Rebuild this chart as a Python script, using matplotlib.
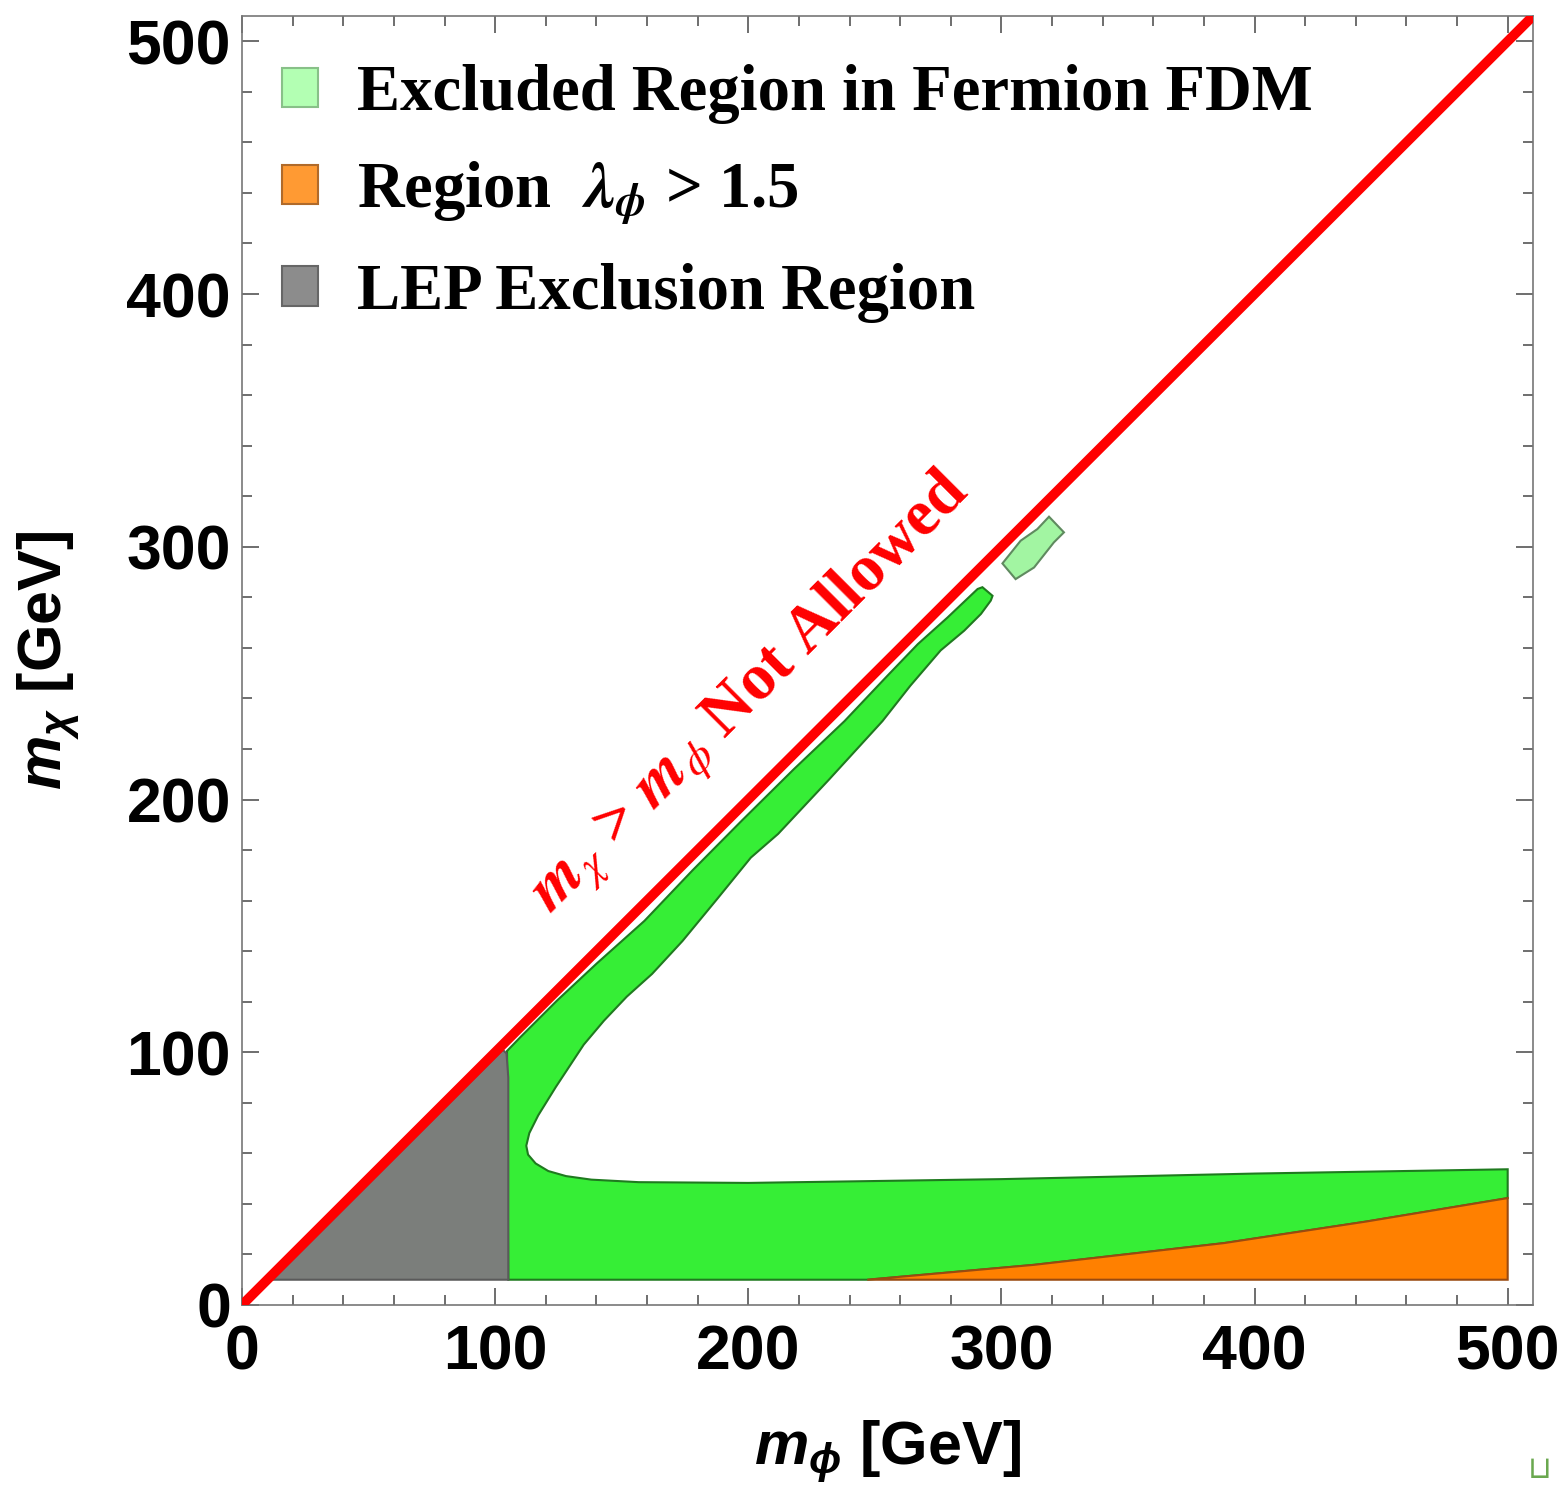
import matplotlib
matplotlib.use('Agg')
import matplotlib.pyplot as plt
from matplotlib.patches import Polygon, Patch
from matplotlib.font_manager import FontProperties

plt.rcParams['mathtext.fontset'] = 'custom'
plt.rcParams['mathtext.it'] = 'Liberation Sans:italic:bold'
plt.rcParams['mathtext.rm'] = 'Liberation Sans:bold'
plt.rcParams['mathtext.bf'] = 'Liberation Sans:bold'

# boundary of the LEP exclusion (GeV)
lep_x = [12, 103, 104.5, 105.2, 105.2]
lep_y = [10, 101, 99.5, 90, 10]

# excluded region in fermion FDM, traced round its edge (GeV)
fdm_x = [105.2, 104.7, 110, 124.5, 140, 159, 178, 197.5, 218, 238, 255, 267, 278.7, 290.6, 292.5, 296.5,
         295.8, 291.9, 285.3, 276, 264, 253, 232, 211.8, 201, 188, 174, 162, 152, 143, 135, 124, 117,
         113.5, 112.3, 113, 116, 121, 128, 138, 156.7, 200, 300, 400, 500, 500, 444, 388, 313, 247]
fdm_y = [10, 100.5, 106, 120.5, 135, 152, 172, 191.7, 212, 231, 249, 261.5, 272, 283.3, 284, 280.6,
         278.7, 273.4, 266.8, 259, 245, 231, 208, 186.4, 177, 161, 144, 131, 122, 112.5, 103, 86.3, 75,
         68, 63, 59.5, 56, 53, 51, 49.6, 48.6, 48.3, 49.8, 52, 53.7, 42.3, 33, 24.5, 15.9, 10]

# small separate island of the excluded region
island_x = [300.4, 305.6, 312.9, 320.7, 324.7, 318.8, 314.2, 307.6]
island_y = [293.4, 287.2, 291.8, 301.7, 305.7, 311.9, 307, 302.4]

# region with lambda_phi > 1.5
lam_x = [247, 313, 388, 444, 500, 500]
lam_y = [10, 15.9, 24.5, 33, 42.3, 10]

# kinematic limit m_chi = m_phi
diag = [0, 510]

ticks = [0, 100, 200, 300, 400, 500]

fig = plt.figure(figsize=(15.64, 14.90), dpi=100)
ax = fig.add_axes([242/1564, 1 - 1305/1490, 1291/1564, 1289/1490])

ax.add_patch(Polygon(list(zip(fdm_x, fdm_y)), closed=True, facecolor='#36ee36', edgecolor='#1f7a1f', lw=1.5, zorder=2))
ax.add_patch(Polygon(list(zip(island_x, island_y)), closed=True, facecolor='#a2f5a2', edgecolor='#5f8a5f', lw=1.5, zorder=2))
ax.add_patch(Polygon(list(zip(lam_x, lam_y)), closed=True, facecolor='#ff8000', edgecolor='#9a4a10', lw=1.5, zorder=3))
ax.add_patch(Polygon(list(zip(lep_x, lep_y)), closed=True, facecolor='#7b7e7b', edgecolor='#5a5a5a', lw=1.5, zorder=3))
ax.plot(diag, diag, color='#ff0000', lw=7, zorder=5, solid_capstyle='butt')

ax.set_xlim(0, 510)
ax.set_ylim(0, 510)
ax.set_xticks(ticks)
ax.set_yticks(ticks)
ax.set_xticks(range(0, 511, 20), minor=True)
ax.set_yticks(range(0, 511, 20), minor=True)
tickfont = FontProperties(family='Liberation Sans', weight='bold', size=45)
ax.set_xticklabels([str(t) for t in ticks], fontproperties=tickfont)
ax.set_yticklabels([str(t) for t in ticks], fontproperties=tickfont)
ax.tick_params(which='both', direction='in', top=True, right=True, color='#555555', width=1.2)
ax.tick_params(which='major', length=12)
ax.tick_params(axis='x', which='major', pad=13)
ax.tick_params(axis='y', which='major', pad=8)
ax.tick_params(which='minor', length=7)
for s in ax.spines.values():
    s.set_color('#777777')
    s.set_linewidth(1.2)

labfont = FontProperties(family='Liberation Sans', weight='bold', size=44)
ax.set_xlabel(r'$m_{\phi}$ [GeV]', fontproperties=labfont, labelpad=26)
ax.set_ylabel(r'$m_{\chi}$ [GeV]', fontproperties=labfont, labelpad=32)

# label along the diagonal
ax.text(201, 242, r'$\mathbfit{m}_{\chi}$ > $\mathbfit{m}_{\phi}$ Not Allowed', color='#ff0000',
        rotation=45, rotation_mode='anchor', ha='center', va='center',
        fontproperties=FontProperties(family='Liberation Serif', weight='bold', size=47, math_fontfamily='stix'))

legfont = FontProperties(family='Liberation Serif', weight='bold', size=46.5, math_fontfamily='stix')
handles = [Patch(facecolor='#b3ffb3', edgecolor='#88c088', lw=1.5),
           Patch(facecolor='#ff9a33', edgecolor='#b06a2a', lw=1.5),
           Patch(facecolor='#8c8c8c', edgecolor='#666666', lw=1.5)]
labels = ['Excluded Region in Fermion FDM',
          r'Region  $\mathbfit{\lambda}_{\mathbfit{\phi}}$ > 1.5',
          'LEP Exclusion Region']
ax.legend(handles, labels, loc='upper left', bbox_to_anchor=(0, 1 - 8/1289), prop=legfont, frameon=False,
          borderaxespad=0, borderpad=0.62, handlelength=0.56, handleheight=0.56, handletextpad=0.6,
          labelspacing=0.55)

fig.text(1540/1564, 1 - 1470/1490, '\u2294', color='#6aa84f', fontsize=22, ha='center', va='center',
         family='DejaVu Sans')

fig.savefig('out.png', dpi=100)
